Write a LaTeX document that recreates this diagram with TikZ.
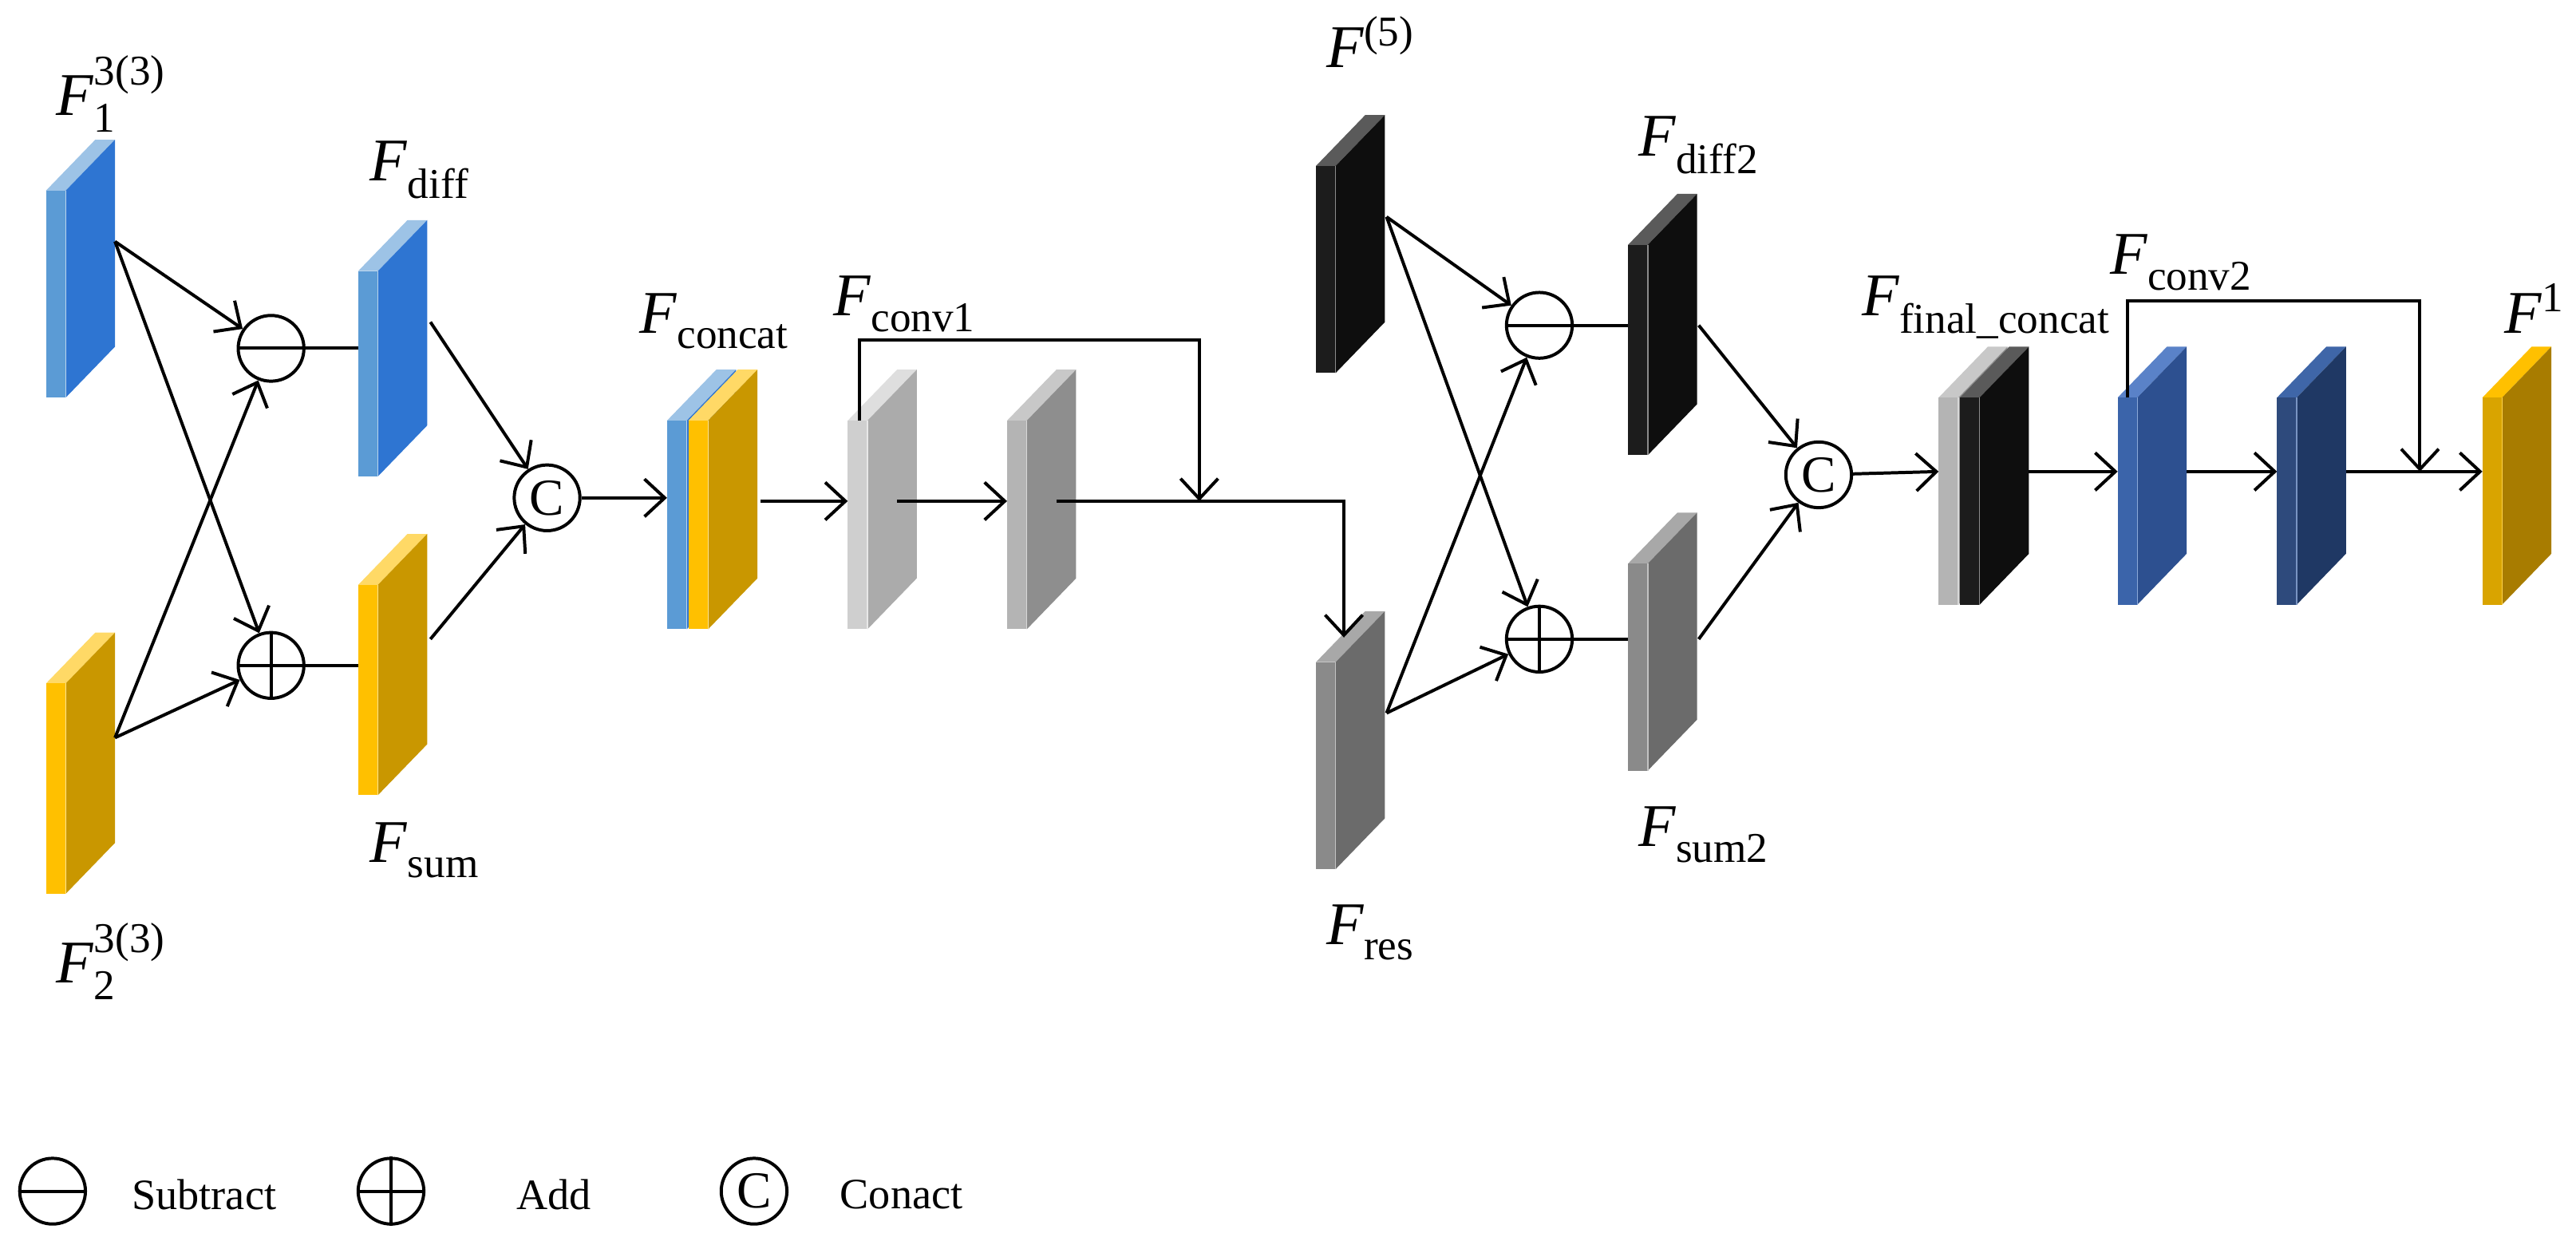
\documentclass[tikz,border=0pt]{standalone}
\usepackage{fontspec}
\usepackage{amsmath}
\setmainfont{Liberation Serif}
\usetikzlibrary{arrows.meta,shapes.geometric}
\definecolor{bF}{HTML}{5B9BD5}\definecolor{bS}{HTML}{2E75D2}\definecolor{bT}{HTML}{9DC3E6}
\definecolor{yF}{HTML}{FFC000}\definecolor{yS}{HTML}{C99700}\definecolor{yT}{HTML}{FFD966}
\definecolor{g1F}{HTML}{CFCFCF}\definecolor{g1S}{HTML}{ABABAB}\definecolor{g1T}{HTML}{DEDEDE}
\definecolor{g2F}{HTML}{B4B4B4}\definecolor{g2S}{HTML}{8E8E8E}\definecolor{g2T}{HTML}{C8C8C8}
\definecolor{g3F}{HTML}{8A8A8A}\definecolor{g3S}{HTML}{6B6B6B}\definecolor{g3T}{HTML}{A8A8A8}
\definecolor{kF}{HTML}{1C1C1C}\definecolor{kS}{HTML}{0E0E0E}\definecolor{kT}{HTML}{5A5A5A}
\definecolor{dF}{HTML}{3B64AA}\definecolor{dS}{HTML}{2D5090}\definecolor{dT}{HTML}{5A82C8}
\definecolor{eF}{HTML}{2E4A7C}\definecolor{eS}{HTML}{1F3864}\definecolor{eT}{HTML}{3F66A8}
\definecolor{oF}{HTML}{D9A400}\definecolor{oS}{HTML}{A87C00}\definecolor{oT}{HTML}{FFC000}
% slab: x, ytop, ybot, colour prefix
\newcommand{\myslab}[4]{%
  \fill[#4T] (#1,#2) -- ++(30,-31) -- ++(12,0) -- ++(-30,31) -- cycle;
  \fill[#4S] (#1+12,#2) -- ++(30,-31) -- (#1+42,#3-31) -- (#1+12,#3) -- cycle;
  \fill[#4F] (#1,#2) rectangle (#1+12,#3);
  \draw[#4T!70!white,line width=0.4pt] (#1+12,#2) -- (#1+12,#3);}
\newcommand{\FL}[3]{\textit{F}$_{\text{#2}}^{\text{#3}}$}
\begin{document}
\begin{tikzpicture}[x=0.02cm,y=-0.02cm,
  op/.style={circle,draw,line width=1.1pt,minimum size=40*0.02cm,inner sep=0pt,fill=white},
  con/.style={line width=1.1pt},
  arr/.style={con,-{Straight Barb[length=7pt,width=13pt,line width=1.1pt]}},
  lab/.style={anchor=base west,inner sep=0pt,font=\fontsize{21}{24}\selectfont},
  leg/.style={anchor=west,inner sep=0pt,font=\fontsize{15}{18}\selectfont}]
\useasboundingbox (0,0) rectangle (1568,755);
% slabs
\myslab{28}{116}{242}{b}
\myslab{28}{416}{544}{y}
\myslab{218}{165}{290}{b}
\myslab{218}{356}{484}{y}
\myslab{406}{256}{383}{b}
\myslab{419}{256}{383}{y}
\myslab{516}{256}{383}{g1}
\myslab{613}{256}{383}{g2}
\myslab{801}{101}{227}{k}
\myslab{801}{403}{529}{g3}
\myslab{991}{149}{277}{k}
\myslab{991}{343}{469}{g3}
\myslab{1180}{242}{368}{g2}
\myslab{1193}{242}{368}{k}
\myslab{1289}{242}{368}{d}
\myslab{1386}{242}{368}{e}
\myslab{1511}{242}{368}{o}
% connection points
\coordinate (f1o) at (70,147);
\coordinate (f2o) at (70,449);
\coordinate (fdi) at (218,212);
\coordinate (fsi) at (218,405);
\coordinate (fdo) at (262,196);
\coordinate (fso) at (262,389);
\coordinate (cci) at (406,303);
\coordinate (cco) at (463,305);
\coordinate (c1i) at (516,305);
\coordinate (c1o) at (546,305);
\coordinate (c2i) at (613,305);
\coordinate (c2o) at (643,305);
\coordinate (j1) at (730,305);
\coordinate (b1) at (818,305);
\coordinate (resi) at (818,388);
\coordinate (s1a) at (523,256);
\coordinate (s1b) at (523,207);
\coordinate (s1c) at (730,207);
\coordinate (f5o) at (844,132);
\coordinate (reso) at (844,434);
\coordinate (fd2i) at (991,198);
\coordinate (fs2i) at (991,389);
\coordinate (fd2o) at (1034,198);
\coordinate (fs2o) at (1034,389);
\coordinate (fci) at (1180,287);
\coordinate (fco) at (1235,287);
\coordinate (d1i) at (1289,287);
\coordinate (d1o) at (1331,287);
\coordinate (d2i) at (1386,287);
\coordinate (d2o) at (1428,287);
\coordinate (j2) at (1473,287);
\coordinate (oi) at (1511,287);
\coordinate (s2a) at (1295,242);
\coordinate (s2b) at (1295,183);
\coordinate (s2c) at (1473,183);
% operators
\node[op] (m1) at (165,212) {};
\node[op] (p1) at (165,405) {};
\node[op,font=\fontsize{18}{18}\selectfont] (c1) at (333,303) {C};
\node[op] (m2) at (937,198) {};
\node[op] (p2) at (937,389) {};
\node[op,font=\fontsize{18}{18}\selectfont] (c2) at (1107,289) {C};
\foreach \n in {m1,p1,m2,p2} \draw[con] (\n.west) -- (\n.east);
\foreach \n in {p1,p2} \draw[con] (\n.north) -- (\n.south);
% connectors
\draw[arr] (f1o) -- (m1);
\draw[arr] (f1o) -- (p1);
\draw[arr] (f2o) -- (m1);
\draw[arr] (f2o) -- (p1);
\draw[con] (m1) -- (fdi);
\draw[con] (p1) -- (fsi);
\draw[arr] (fdo) -- (c1);
\draw[arr] (fso) -- (c1);
\draw[arr] (c1) -- (cci);
\draw[arr] (cco) -- (c1i);
\draw[arr] (c1o) -- (c2i);
\draw[arr] (c2o) -- (b1) -- (resi);
\draw[arr] (s1a) -- (s1b) -- (s1c) -- (j1);
\draw[arr] (f5o) -- (m2);
\draw[arr] (f5o) -- (p2);
\draw[arr] (reso) -- (m2);
\draw[arr] (reso) -- (p2);
\draw[con] (m2) -- (fd2i);
\draw[con] (p2) -- (fs2i);
\draw[arr] (fd2o) -- (c2);
\draw[arr] (fs2o) -- (c2);
\draw[arr] (c2) -- (fci);
\draw[arr] (fco) -- (d1i);
\draw[arr] (d1o) -- (d2i);
\draw[arr] (d2o) -- (oi);
\draw[arr] (s2a) -- (s2b) -- (s2c) -- (j2);
% labels
\node[lab] (l1) at (34,70) {\FL{}{1}{3(3)}};
\node[lab] (l2) at (34,598) {\FL{}{2}{3(3)}};
\node[lab] (l3) at (225,110) {\FL{}{diff}{}};
\node[lab] (l4) at (225,525) {\FL{}{sum}{}};
\node[lab] (l5) at (389,203) {\FL{}{concat}{}};
\node[lab] (l6) at (507,192) {\FL{}{conv1}{}};
\node[lab] (l7) at (807,41) {\FL{}{}{(5)}};
\node[lab] (l8) at (807,575) {\FL{}{res}{}};
\node[lab] (l9) at (997,95) {\FL{}{diff2}{}};
\node[lab] (l10) at (997,515) {\FL{}{sum2}{}};
\node[lab] (l11) at (1133,192) {\FL{}{final\_concat}{}};
\node[lab] (l12) at (1284,167) {\FL{}{conv2}{}};
\node[lab] (l13) at (1524,203) {\FL{}{}{1}};
% legend
\node[op] (g1) at (32,725) {};
\draw[con] (g1.west) -- (g1.east);
\node[leg] (t1) at (80,727) {Subtract};
\node[op] (g2) at (238,725) {};
\draw[con] (g2.west) -- (g2.east);
\draw[con] (g2.north) -- (g2.south);
\node[leg] (t2) at (314,727) {Add};
\node[op,font=\fontsize{18}{18}\selectfont] (g3) at (459,725) {C};
\node[leg] (t3) at (511,727) {Conact};
\end{tikzpicture}
\end{document}
